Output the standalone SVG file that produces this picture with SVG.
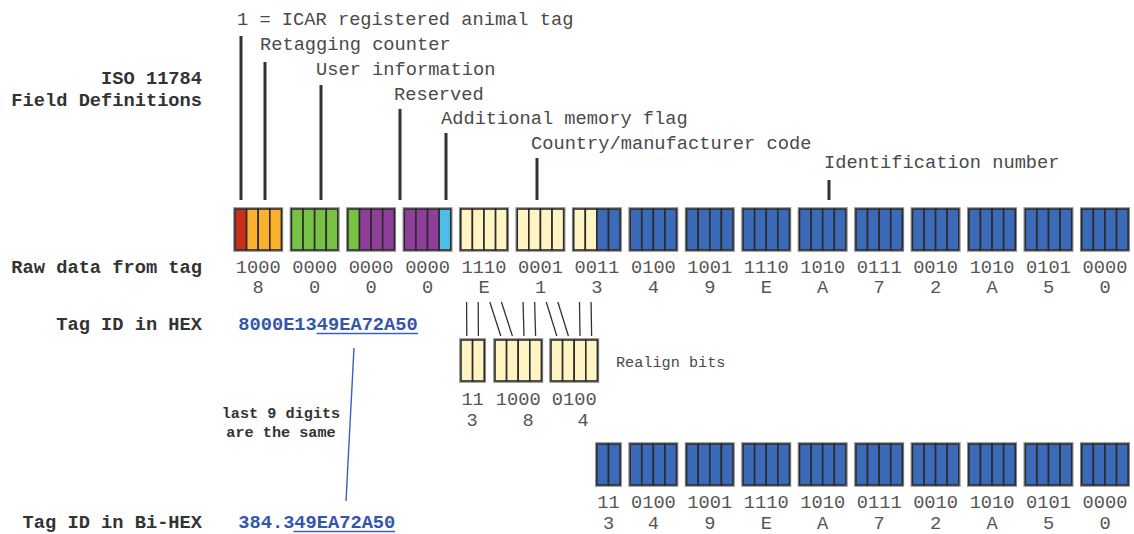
<svg xmlns="http://www.w3.org/2000/svg" width="1134" height="534" viewBox="0 0 1134 534">
<style>
.bit{stroke:#2b2b2b;stroke-width:1.6}
.r{fill:#c9301c}.o{fill:#fbb02e}.g{fill:#77c244}.p{fill:#8f3f9a}.c{fill:#4dbde9}.y{fill:#fff4c2}.b{fill:#3a6ab8}
.frame{fill:none;stroke:#8a8a8a;stroke-width:1.2}
.mono{font-family:"Liberation Mono","DejaVu Sans Mono",monospace;font-size:18.7px}
.small{font-family:"Liberation Mono","DejaVu Sans Mono",monospace;font-size:15.2px}
.lbl{font-weight:bold;fill:#333;text-anchor:end}
.def{fill:#4a4a4a}
.dig{fill:#555;text-anchor:middle}
.hex{font-weight:bold;fill:#3355aa}
.fld{stroke:#333;stroke-width:3}
.thin{stroke:#333;stroke-width:1.3}
.blue{stroke:#3a5fc0;stroke-width:1.4}
</style>
<defs>
<rect id="f4" class="frame" x="-1.2" y="-1.2" width="48.8" height="43.4"/>
<rect id="f2" class="frame" x="-1.2" y="-1.2" width="25.6" height="43.4"/>
</defs>

<g id="labels" class="mono lbl">
<text x="202" y="84">ISO 11784</text>
<text x="202" y="106">Field Definitions</text>
<text x="202" y="273">Raw data from tag</text>
<text x="202" y="330">Tag ID in HEX</text>
<text x="202" y="528">Tag ID in Bi-HEX</text>
</g>

<g id="field-definitions" class="mono def">
<text x="237" y="25">1 = ICAR registered animal tag</text>
<text x="260" y="50">Retagging counter</text>
<text x="316" y="75">User information</text>
<text x="394" y="100">Reserved</text>
<text x="441" y="124">Additional memory flag</text>
<text x="531" y="149">Country/manufacturer code</text>
<text x="824" y="168">Identification number</text>
</g>

<g id="connectors">
<line class="fld" x1="241" y1="36" x2="241" y2="200"/>
<line class="fld" x1="265" y1="62" x2="265" y2="200"/>
<line class="fld" x1="321" y1="85" x2="321" y2="200"/>
<line class="fld" x1="400" y1="109" x2="400" y2="200"/>
<line class="fld" x1="446" y1="133" x2="446" y2="200"/>
<line class="fld" x1="537" y1="158" x2="537" y2="200"/>
<line class="fld" x1="829" y1="180" x2="829" y2="200"/>
<line class="thin" x1="466.6" y1="302" x2="466.8" y2="336"/>
<line class="thin" x1="478.2" y1="302" x2="478.4" y2="336"/>
<line class="thin" x1="489.8" y1="302" x2="500.8" y2="336"/>
<line class="thin" x1="501.4" y1="302" x2="512.4" y2="336"/>
<line class="thin" x1="523.05" y1="302" x2="524" y2="336"/>
<line class="thin" x1="534.65" y1="302" x2="535.6" y2="336"/>
<line class="thin" x1="546.25" y1="302" x2="556.8" y2="336"/>
<line class="thin" x1="557.85" y1="302" x2="568.4" y2="336"/>
<line class="thin" x1="579.5" y1="302" x2="580" y2="336"/>
<line class="thin" x1="591.1" y1="302" x2="591.6" y2="336"/>
<line class="blue" x1="354" y1="348" x2="346" y2="501"/>
</g>

<g id="raw-row">
<g id="raw-0" transform="translate(235,209)"><use href="#f4"/><rect class="bit r" x="0" width="11.6" height="41"/><rect class="bit o" x="11.6" width="11.6" height="41"/><rect class="bit o" x="23.2" width="11.6" height="41"/><rect class="bit o" x="34.8" width="11.6" height="41"/></g>
<g id="raw-1" transform="translate(291.45,209)"><use href="#f4"/><rect class="bit g" x="0" width="11.6" height="41"/><rect class="bit g" x="11.6" width="11.6" height="41"/><rect class="bit g" x="23.2" width="11.6" height="41"/><rect class="bit g" x="34.8" width="11.6" height="41"/></g>
<g id="raw-2" transform="translate(347.9,209)"><use href="#f4"/><rect class="bit g" x="0" width="11.6" height="41"/><rect class="bit p" x="11.6" width="11.6" height="41"/><rect class="bit p" x="23.2" width="11.6" height="41"/><rect class="bit p" x="34.8" width="11.6" height="41"/></g>
<g id="raw-3" transform="translate(404.35,209)"><use href="#f4"/><rect class="bit p" x="0" width="11.6" height="41"/><rect class="bit p" x="11.6" width="11.6" height="41"/><rect class="bit p" x="23.2" width="11.6" height="41"/><rect class="bit c" x="34.8" width="11.6" height="41"/></g>
<g id="raw-4" transform="translate(460.8,209)"><use href="#f4"/><rect class="bit y" x="0" width="11.6" height="41"/><rect class="bit y" x="11.6" width="11.6" height="41"/><rect class="bit y" x="23.2" width="11.6" height="41"/><rect class="bit y" x="34.8" width="11.6" height="41"/></g>
<g id="raw-5" transform="translate(517.25,209)"><use href="#f4"/><rect class="bit y" x="0" width="11.6" height="41"/><rect class="bit y" x="11.6" width="11.6" height="41"/><rect class="bit y" x="23.2" width="11.6" height="41"/><rect class="bit y" x="34.8" width="11.6" height="41"/></g>
<g id="raw-6" transform="translate(573.7,209)"><use href="#f4"/><rect class="bit y" x="0" width="11.6" height="41"/><rect class="bit y" x="11.6" width="11.6" height="41"/><rect class="bit b" x="23.2" width="11.6" height="41"/><rect class="bit b" x="34.8" width="11.6" height="41"/></g>
<g id="raw-7" transform="translate(630.15,209)"><use href="#f4"/><rect class="bit b" x="0" width="11.6" height="41"/><rect class="bit b" x="11.6" width="11.6" height="41"/><rect class="bit b" x="23.2" width="11.6" height="41"/><rect class="bit b" x="34.8" width="11.6" height="41"/></g>
<g id="raw-8" transform="translate(686.6,209)"><use href="#f4"/><rect class="bit b" x="0" width="11.6" height="41"/><rect class="bit b" x="11.6" width="11.6" height="41"/><rect class="bit b" x="23.2" width="11.6" height="41"/><rect class="bit b" x="34.8" width="11.6" height="41"/></g>
<g id="raw-9" transform="translate(743.05,209)"><use href="#f4"/><rect class="bit b" x="0" width="11.6" height="41"/><rect class="bit b" x="11.6" width="11.6" height="41"/><rect class="bit b" x="23.2" width="11.6" height="41"/><rect class="bit b" x="34.8" width="11.6" height="41"/></g>
<g id="raw-10" transform="translate(799.5,209)"><use href="#f4"/><rect class="bit b" x="0" width="11.6" height="41"/><rect class="bit b" x="11.6" width="11.6" height="41"/><rect class="bit b" x="23.2" width="11.6" height="41"/><rect class="bit b" x="34.8" width="11.6" height="41"/></g>
<g id="raw-11" transform="translate(855.95,209)"><use href="#f4"/><rect class="bit b" x="0" width="11.6" height="41"/><rect class="bit b" x="11.6" width="11.6" height="41"/><rect class="bit b" x="23.2" width="11.6" height="41"/><rect class="bit b" x="34.8" width="11.6" height="41"/></g>
<g id="raw-12" transform="translate(912.4,209)"><use href="#f4"/><rect class="bit b" x="0" width="11.6" height="41"/><rect class="bit b" x="11.6" width="11.6" height="41"/><rect class="bit b" x="23.2" width="11.6" height="41"/><rect class="bit b" x="34.8" width="11.6" height="41"/></g>
<g id="raw-13" transform="translate(968.85,209)"><use href="#f4"/><rect class="bit b" x="0" width="11.6" height="41"/><rect class="bit b" x="11.6" width="11.6" height="41"/><rect class="bit b" x="23.2" width="11.6" height="41"/><rect class="bit b" x="34.8" width="11.6" height="41"/></g>
<g id="raw-14" transform="translate(1025.3,209)"><use href="#f4"/><rect class="bit b" x="0" width="11.6" height="41"/><rect class="bit b" x="11.6" width="11.6" height="41"/><rect class="bit b" x="23.2" width="11.6" height="41"/><rect class="bit b" x="34.8" width="11.6" height="41"/></g>
<g id="raw-15" transform="translate(1081.75,209)"><use href="#f4"/><rect class="bit b" x="0" width="11.6" height="41"/><rect class="bit b" x="11.6" width="11.6" height="41"/><rect class="bit b" x="23.2" width="11.6" height="41"/><rect class="bit b" x="34.8" width="11.6" height="41"/></g>
</g>

<g id="raw-digits" class="mono dig">
<text x="258.2" y="273">1000</text><text x="258.2" y="293">8</text>
<text x="314.7" y="273">0000</text><text x="314.7" y="293">0</text>
<text x="371.1" y="273">0000</text><text x="371.1" y="293">0</text>
<text x="427.6" y="273">0000</text><text x="427.6" y="293">0</text>
<text x="484" y="273">1110</text><text x="484" y="293">E</text>
<text x="540.5" y="273">0001</text><text x="540.5" y="293">1</text>
<text x="596.9" y="273">0011</text><text x="596.9" y="293">3</text>
<text x="653.4" y="273">0100</text><text x="653.4" y="293">4</text>
<text x="709.8" y="273">1001</text><text x="709.8" y="293">9</text>
<text x="766.3" y="273">1110</text><text x="766.3" y="293">E</text>
<text x="822.7" y="273">1010</text><text x="822.7" y="293">A</text>
<text x="879.2" y="273">0111</text><text x="879.2" y="293">7</text>
<text x="935.6" y="273">0010</text><text x="935.6" y="293">2</text>
<text x="992.1" y="273">1010</text><text x="992.1" y="293">A</text>
<text x="1048.5" y="273">0101</text><text x="1048.5" y="293">5</text>
<text x="1105" y="273">0000</text><text x="1105" y="293">0</text>
</g>

<g id="hex-id">
<text class="mono hex" x="238.3" y="330">8000E1349EA72A50</text>
<line class="blue" x1="316.5" y1="333.5" x2="418" y2="333.5"/>
</g>

<g id="realign">
<g id="realign-a" transform="translate(461,340)"><use href="#f2"/><rect class="bit y" x="0" width="11.6" height="41"/><rect class="bit y" x="11.6" width="11.6" height="41"/></g>
<g id="realign-b" transform="translate(495,340)"><use href="#f4"/><rect class="bit y" x="0" width="11.6" height="41"/><rect class="bit y" x="11.6" width="11.6" height="41"/><rect class="bit y" x="23.2" width="11.6" height="41"/><rect class="bit y" x="34.8" width="11.6" height="41"/></g>
<g id="realign-c" transform="translate(551,340)"><use href="#f4"/><rect class="bit y" x="0" width="11.6" height="41"/><rect class="bit y" x="11.6" width="11.6" height="41"/><rect class="bit y" x="23.2" width="11.6" height="41"/><rect class="bit y" x="34.8" width="11.6" height="41"/></g>
<text class="small def" x="616" y="366.5">Realign bits</text>
<g class="mono dig">
<text x="472.6" y="405">11</text><text x="472" y="426">3</text>
<text x="518.2" y="405">1000</text><text x="528" y="426">8</text>
<text x="574.2" y="405">0100</text><text x="583" y="426">4</text>
</g>
</g>

<g id="note" class="small" font-weight="bold" fill="#333" text-anchor="middle">
<text x="281" y="418">last 9 digits</text>
<text x="281" y="437">are the same</text>
</g>

<g id="bihex-row">
<g id="bi-0" transform="translate(596.9,444)"><use href="#f2"/><rect class="bit b" x="0" width="11.6" height="41"/><rect class="bit b" x="11.6" width="11.6" height="41"/></g>
<g id="bi-1" transform="translate(630.15,444)"><use href="#f4"/><rect class="bit b" x="0" width="11.6" height="41"/><rect class="bit b" x="11.6" width="11.6" height="41"/><rect class="bit b" x="23.2" width="11.6" height="41"/><rect class="bit b" x="34.8" width="11.6" height="41"/></g>
<g id="bi-2" transform="translate(686.6,444)"><use href="#f4"/><rect class="bit b" x="0" width="11.6" height="41"/><rect class="bit b" x="11.6" width="11.6" height="41"/><rect class="bit b" x="23.2" width="11.6" height="41"/><rect class="bit b" x="34.8" width="11.6" height="41"/></g>
<g id="bi-3" transform="translate(743.05,444)"><use href="#f4"/><rect class="bit b" x="0" width="11.6" height="41"/><rect class="bit b" x="11.6" width="11.6" height="41"/><rect class="bit b" x="23.2" width="11.6" height="41"/><rect class="bit b" x="34.8" width="11.6" height="41"/></g>
<g id="bi-4" transform="translate(799.5,444)"><use href="#f4"/><rect class="bit b" x="0" width="11.6" height="41"/><rect class="bit b" x="11.6" width="11.6" height="41"/><rect class="bit b" x="23.2" width="11.6" height="41"/><rect class="bit b" x="34.8" width="11.6" height="41"/></g>
<g id="bi-5" transform="translate(855.95,444)"><use href="#f4"/><rect class="bit b" x="0" width="11.6" height="41"/><rect class="bit b" x="11.6" width="11.6" height="41"/><rect class="bit b" x="23.2" width="11.6" height="41"/><rect class="bit b" x="34.8" width="11.6" height="41"/></g>
<g id="bi-6" transform="translate(912.4,444)"><use href="#f4"/><rect class="bit b" x="0" width="11.6" height="41"/><rect class="bit b" x="11.6" width="11.6" height="41"/><rect class="bit b" x="23.2" width="11.6" height="41"/><rect class="bit b" x="34.8" width="11.6" height="41"/></g>
<g id="bi-7" transform="translate(968.85,444)"><use href="#f4"/><rect class="bit b" x="0" width="11.6" height="41"/><rect class="bit b" x="11.6" width="11.6" height="41"/><rect class="bit b" x="23.2" width="11.6" height="41"/><rect class="bit b" x="34.8" width="11.6" height="41"/></g>
<g id="bi-8" transform="translate(1025.3,444)"><use href="#f4"/><rect class="bit b" x="0" width="11.6" height="41"/><rect class="bit b" x="11.6" width="11.6" height="41"/><rect class="bit b" x="23.2" width="11.6" height="41"/><rect class="bit b" x="34.8" width="11.6" height="41"/></g>
<g id="bi-9" transform="translate(1081.75,444)"><use href="#f4"/><rect class="bit b" x="0" width="11.6" height="41"/><rect class="bit b" x="11.6" width="11.6" height="41"/><rect class="bit b" x="23.2" width="11.6" height="41"/><rect class="bit b" x="34.8" width="11.6" height="41"/></g>
</g>

<g id="bihex-digits" class="mono dig">
<text x="608.5" y="508">11</text><text x="608.5" y="529">3</text>
<text x="653.4" y="508">0100</text><text x="653.4" y="529">4</text>
<text x="709.8" y="508">1001</text><text x="709.8" y="529">9</text>
<text x="766.3" y="508">1110</text><text x="766.3" y="529">E</text>
<text x="822.7" y="508">1010</text><text x="822.7" y="529">A</text>
<text x="879.2" y="508">0111</text><text x="879.2" y="529">7</text>
<text x="935.6" y="508">0010</text><text x="935.6" y="529">2</text>
<text x="992.1" y="508">1010</text><text x="992.1" y="529">A</text>
<text x="1048.5" y="508">0101</text><text x="1048.5" y="529">5</text>
<text x="1105" y="508">0000</text><text x="1105" y="529">0</text>
</g>

<g id="bihex-id">
<text class="mono hex" x="238.3" y="528">384.349EA72A50</text>
<line class="blue" x1="293.5" y1="531.5" x2="395" y2="531.5"/>
</g>
</svg>
